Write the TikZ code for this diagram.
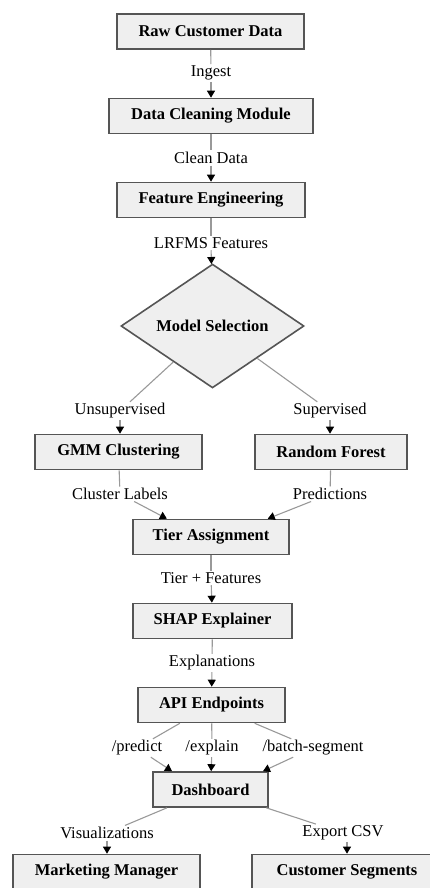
\documentclass[tikz,border=0pt]{standalone}
\usepackage{fontspec}
\setmainfont{Liberation Serif}
\usetikzlibrary{shapes.geometric,arrows.meta,calc}
\definecolor{boxfill}{HTML}{EFEFEF}
\definecolor{boxline}{HTML}{555555}
\definecolor{edgeline}{HTML}{999999}
\tikzset{
  procbox/.style={draw=boxline, line width=1.6pt, fill=boxfill, rectangle,
    minimum height=35pt, inner sep=2pt, font=\fontsize{16.5}{18}\selectfont\bfseries},
  decbox/.style={draw=boxline, line width=1.6pt, fill=boxfill, diamond,
    minimum width=183pt, minimum height=116pt, inner sep=0pt,
    font=\fontsize{16.5}{18}\selectfont\bfseries},
  elabel/.style={fill=white, inner sep=1.5pt, font=\fontsize{16.5}{18}\selectfont},
  edge/.style={draw=edgeline, line width=1.1pt},
  arr/.style={edge, -{Triangle[length=7pt,width=8pt,color=black,fill=black]}}
}
\begin{document}
\begin{tikzpicture}[x=1pt,y=-1pt]
\useasboundingbox (0,0) rectangle (430,888);
% boxes
\node[procbox, minimum width=187pt] (raw)  at (210.5,31.5) {Raw Customer Data};
\node[procbox, minimum width=204pt] (dcm)  at (211,116)  {Data Cleaning Module};
\node[procbox, minimum width=188pt] (fe)   at (211,200)  {Feature Engineering};
\node[decbox] (ms) at (212.5,326) {Model Selection};
\node[procbox, minimum width=167pt] (gmm)  at (118.5,452) {GMM Clustering};
\node[procbox, minimum width=152pt] (rf)   at (331,452)  {Random Forest};
\node[procbox, minimum width=156pt] (tier) at (211,537)  {Tier Assignment};
\node[procbox, minimum width=159pt] (shap) at (212.5,621) {SHAP Explainer};
\node[procbox, minimum width=147pt] (api)  at (211.5,705) {API Endpoints};
\node[procbox, minimum width=115pt] (dash) at (210.5,789.5) {Dashboard};
\node[procbox, minimum width=187pt] (mm)   at (106.5,872) {Marketing Manager};
\node[procbox, minimum width=190pt] (cs)   at (347,872)  {Customer Segments};
% labels
\node[elabel] (lin) at (211,73)  {Ingest};
\node[elabel] (lcd) at (211,158) {Clean Data};
\node[elabel] (llf) at (211,243) {LRFMS Features};
\node[elabel] (lun) at (120,411) {Unsupervised};
\node[elabel] (lsu) at (330,411) {Supervised};
\node[elabel] (lcl) at (120,494) {Cluster Labels};
\node[elabel] (lpr) at (330,494) {Predictions};
\node[elabel] (ltf) at (211,578) {Tier + Features};
\node[elabel] (lex) at (212,663) {Explanations};
\node[elabel] (lpd) at (137,748) {/predict};
\node[elabel] (lxp) at (212,748) {/explain};
\node[elabel] (lbs) at (313,748) {/batch-segment};
\node[elabel] (lvi) at (107,833) {Visualizations};
\node[elabel] (lcs) at (343,833) {Export CSV};
% edges
\draw[edge] (raw) -- (lin);  \draw[arr] (lin) -- (dcm);
\draw[edge] (dcm) -- (lcd);  \draw[arr] (lcd) -- (fe);
\draw[edge] (fe) -- (llf);   \draw[arr] (llf) -- (ms);
\draw[edge] (ms) -- (lun);   \draw[arr] (lun) -- (lun |- gmm.north);
\draw[edge] (ms) -- (lsu);   \draw[arr] (lsu) -- (lsu |- rf.north);
\draw[edge] (gmm) -- (lcl);  \draw[arr] (lcl) -- ($(tier.north west)!0.22!(tier.north east)$);
\draw[edge] (rf) -- (lpr);   \draw[arr] (lpr) -- ($(tier.north west)!0.86!(tier.north east)$);
\draw[edge] (tier) -- (ltf); \draw[arr] (ltf) -- (shap);
\draw[edge] (shap) -- (lex); \draw[arr] (lex) -- (api);
\draw[edge] (api) -- (lpd);  \draw[arr] (lpd) -- ($(dash.north west)!0.17!(dash.north east)$);
\draw[edge] (api) -- (lxp);  \draw[arr] (lxp) -- (dash);
\draw[edge] (api) -- (lbs);  \draw[arr] (lbs) -- ($(dash.north west)!0.95!(dash.north east)$);
\draw[edge] (dash) -- (lvi); \draw[arr] (lvi) -- (lvi |- mm.north);
\draw[edge] (dash) -- (lcs); \draw[arr] (lcs.south -| cs.north) -- (cs.north);
\end{tikzpicture}
\end{document}
